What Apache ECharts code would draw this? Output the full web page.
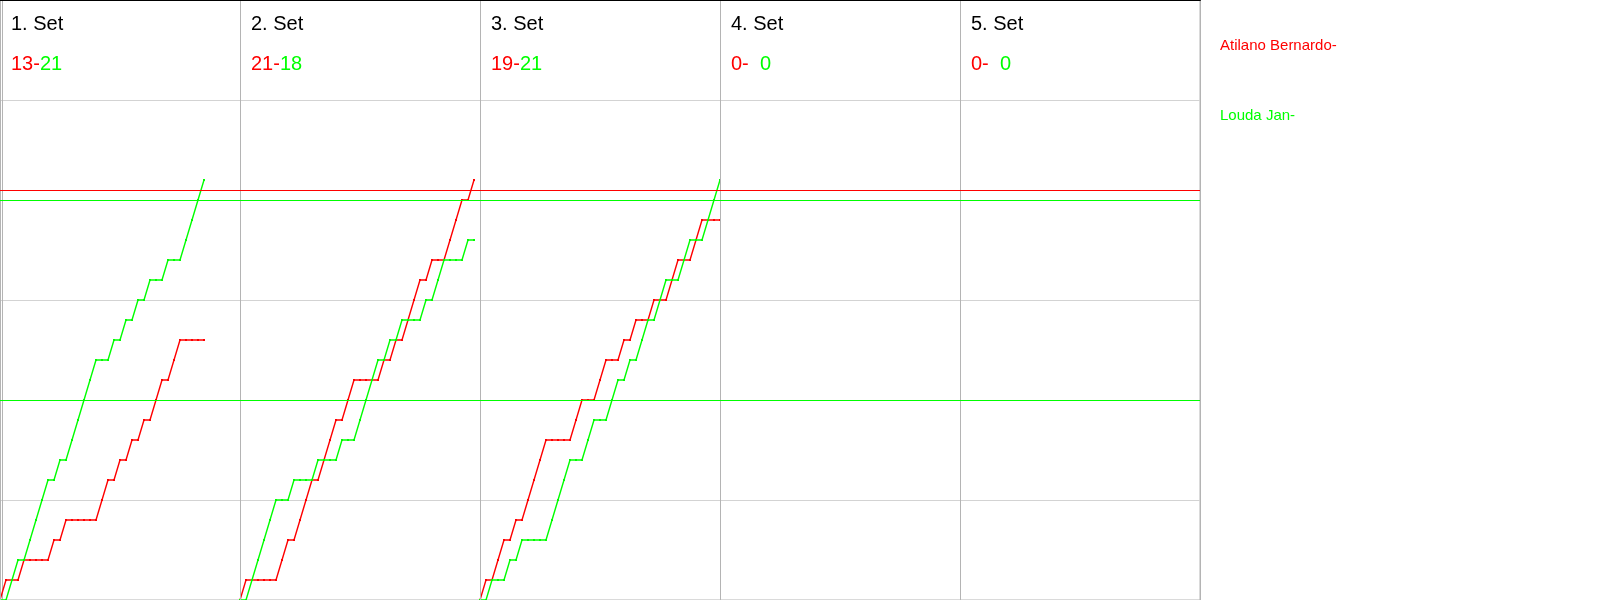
<!DOCTYPE html>
<html>
<head>
<meta charset="utf-8">
<script src="https://cdn.jsdelivr.net/npm/echarts@6/dist/echarts.min.js"></script>
<style>
html,body{margin:0;padding:0;background:#fff;}
#chart{width:1600px;height:600px;}
</style>
</head>
<body>
<div id="chart"></div>
<script>
// ---- data ----
const players = ['Atilano Bernardo-', 'Louda Jan-'];
const playerColors = ['#ff0000', '#00ff00'];
const setLabels = ['1. Set', '2. Set', '3. Set', '4. Set', '5. Set'];
const finalRed = [13, 21, 19, 0, 0];
const finalGreen = [21, 18, 21, 0, 0];
const ralliesPerPanel = 40;

// cumulative scores after each rally (index 0 = start of set)
const redSet1 = [0,1,1,1,2,2,2,2,2,3,3,4,4,4,4,4,4,5,6,6,7,7,8,8,9,9,10,11,11,12,13,13,13,13,13];
const greenSet1 = [0,0,1,2,2,3,4,5,6,6,7,7,8,9,10,11,12,12,12,13,13,14,14,15,15,16,16,16,17,17,17,18,19,20,21];
const redSet2 = [0,1,1,1,1,1,1,2,3,3,4,5,6,6,7,8,9,9,10,11,11,11,11,11,12,12,13,13,14,15,16,16,17,17,17,18,19,20,20,21];
const greenSet2 = [0,0,1,2,3,4,5,5,5,6,6,6,6,7,7,7,7,8,8,8,9,10,11,12,12,13,13,14,14,14,14,15,15,16,17,17,17,17,18,18];
const redSet3 = [0,1,1,2,3,3,4,4,5,6,7,8,8,8,8,8,9,10,10,10,11,12,12,12,13,13,14,14,14,15,15,15,16,17,17,17,18,19,19,19,19];
const greenSet3 = [0,0,1,1,1,2,2,3,3,3,3,3,4,5,6,7,7,7,8,9,9,9,10,11,11,12,12,13,14,14,15,16,16,16,17,18,18,18,19,20,21];

const redMarkLines = [20.5];
const greenMarkLines = [20, 10];

const redSets = [redSet1, redSet2, redSet3];
const greenSets = [greenSet1, greenSet2, greenSet3];

// ---- build ----
const chart = echarts.init(document.getElementById('chart'), null, {renderer: 'canvas'});
const FONT = 'Liberation Sans, Arial, sans-serif';

function mkSeries(name, color, arr, setIdx, marks) {
  const off = setIdx * ralliesPerPanel;
  const s = {
    name: name,
    type: 'line',
    data: arr.map((v, i) => [off + i, v]),
    symbol: 'rect',
    symbolSize: 2,
    showAllSymbol: true,
    itemStyle: {color: color},
    lineStyle: {color: color, width: 1.4},
    emphasis: {disabled: true},
    animation: false,
    z: 3
  };
  if (marks) {
    s.markLine = {
      silent: true,
      symbol: 'none',
      label: {show: false},
      lineStyle: {color: color, width: 1.2, type: 'solid'},
      data: marks.map(v => ({yAxis: v})),
      animation: false
    };
  }
  return s;
}

const series = [];
redSets.forEach((arr, i) => series.push(mkSeries(players[0], playerColors[0], arr, i, i === 0 ? redMarkLines : null)));
greenSets.forEach((arr, i) => series.push(mkSeries(players[1], playerColors[1], arr, i, i === 0 ? greenMarkLines : null)));

const titles = [];
setLabels.forEach((lab, i) => {
  titles.push({
    text: lab,
    left: i * 240 + 11,
    top: 14,
    padding: 0,
    textStyle: {fontFamily: FONT, fontSize: 20, fontWeight: 'normal', color: '#000'}
  });
  const gs = String(finalGreen[i]);
  const pad = '\u00a0\u00a0'.repeat(Math.max(0, 2 - gs.length));
  titles.push({
    text: '{r|' + finalRed[i] + '-}{g|' + pad + gs + '}',
    left: i * 240 + 11,
    top: 54,
    padding: 0,
    textStyle: {
      fontFamily: FONT, fontSize: 20, fontWeight: 'normal',
      rich: {
        r: {color: playerColors[0], fontSize: 20, fontFamily: FONT},
        g: {color: playerColors[1], fontSize: 20, fontFamily: FONT}
      }
    }
  });
});

chart.setOption({
  animation: false,
  backgroundColor: '#ffffff',
  title: titles,
  legend: {
    data: players.map((p, i) => ({name: p, icon: 'none', textStyle: {color: playerColors[i]}})),
    orient: 'vertical',
    left: 1215,
    top: 36,
    padding: 0,
    itemWidth: 0,
    itemHeight: 20,
    itemGap: 50,
    selectedMode: false,
    textStyle: {fontFamily: FONT, fontSize: 15, lineHeight: 20}
  },
  grid: {left: 0, right: 400, top: 0, bottom: 0, show: true, borderColor: '#b4b4b4', borderWidth: 1, containLabel: false, z: 0},
  xAxis: {
    type: 'value', min: 0, max: ralliesPerPanel * 5, interval: ralliesPerPanel, position: 'top',
    z: 5,
    axisLine: {show: true, onZero: false, lineStyle: {color: '#000', width: 2}},
    axisTick: {show: false}, axisLabel: {show: false},
    splitLine: {show: true, lineStyle: {color: '#b4b4b4', width: 1}}
  },
  yAxis: {
    type: 'value', min: 0, max: 30, interval: 5,
    axisLine: {show: true, onZero: false, lineStyle: {color: '#b4b4b4'}},
    offset: -2,
    axisTick: {show: false}, axisLabel: {show: false},
    splitLine: {show: true, lineStyle: {color: '#d3d3d3', width: 1}}
  },
  tooltip: {show: false},
  series: series
});
</script>
</body>
</html>
